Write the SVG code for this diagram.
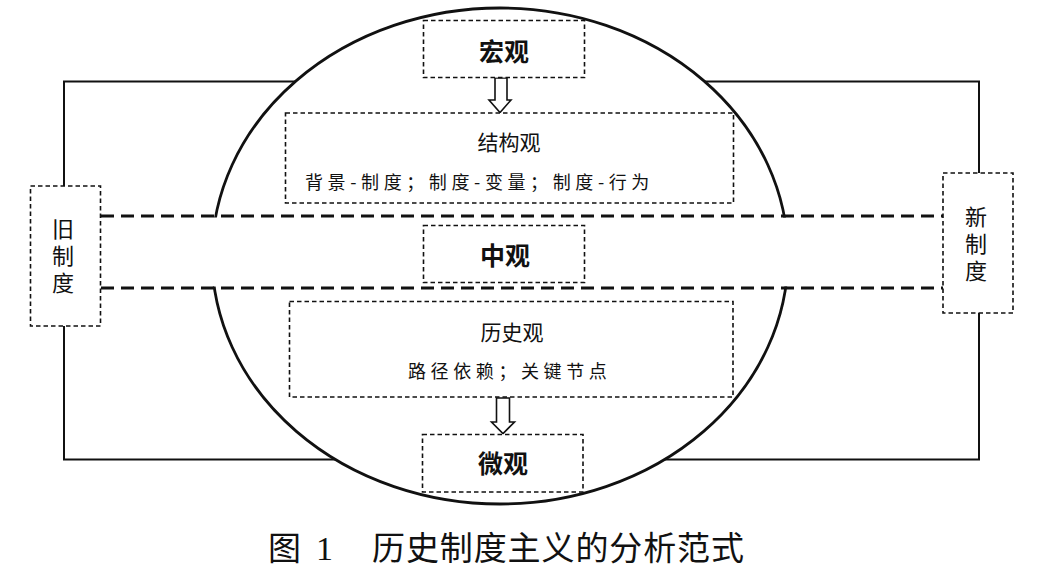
<svg xmlns="http://www.w3.org/2000/svg" width="1052" height="586" viewBox="0 0 1052 586">
<style>
.box{fill:#fff;stroke:#111;stroke-width:1.6;stroke-dasharray:4.5 3}
.band{fill:none;stroke:#111;stroke-width:3.2;stroke-dasharray:13 7}
.cjk{font-family:"Noto Sans CJK SC","Noto Sans",sans-serif;fill:#111}
.hd{font-size:25px;font-weight:700;text-anchor:middle}
.sub{font-size:21px;text-anchor:middle}
.sm{font-size:18px;letter-spacing:4.6px}
.vt{font-size:22px;writing-mode:vertical-rl;letter-spacing:5px}
.arr{fill:#fff;stroke:#111;stroke-width:1.6;stroke-linejoin:miter}
</style>
<rect width="1052" height="586" fill="#fff"/>
<g id="background">
<rect x="64" y="81.5" width="915" height="378" fill="none" stroke="#111" stroke-width="2"/>
<ellipse cx="500" cy="256" rx="288" ry="248" fill="#fff" stroke="#111" stroke-width="2.8"/>
<rect x="150" y="217.5" width="760" height="69" fill="#fff"/>
</g>
<g id="connectors">
<line class="band" x1="101" y1="216" x2="943" y2="216"/>
<line class="band" x1="101" y1="288" x2="943" y2="288"/>
<path class="arr" d="M495,78 L507,78 L507,100 L511,100 L500,112.5 L489,100 L495,100 Z"/>
<path class="arr" d="M496.5,398 L509.5,398 L509.5,422 L514.5,422 L503,433.5 L491.5,422 L496.5,422 Z"/>
</g>
<g id="node-macro">
<rect class="box" x="423.5" y="20.5" width="161" height="57"/>
<text class="cjk hd" x="504" y="61">宏观</text>
</g>
<g id="node-structure">
<rect class="box" x="285.5" y="113" width="448" height="90"/>
<text class="cjk sub" x="509" y="150">结构观</text>
<text class="cjk sm" x="305" y="189">背景-制度；制度-变量；制度-行为</text>
</g>
<g id="node-meso">
<rect class="box" x="423.5" y="225.5" width="161" height="57"/>
<text class="cjk hd" x="505" y="265">中观</text>
</g>
<g id="node-history">
<rect class="box" x="289.5" y="301.5" width="443.5" height="95.5"/>
<text class="cjk sub" x="512" y="340">历史观</text>
<text class="cjk sm" x="408" y="378">路径依赖；关键节点</text>
</g>
<g id="node-micro">
<rect class="box" x="422.5" y="434.5" width="160.5" height="57.5"/>
<text class="cjk hd" x="503" y="473">微观</text>
</g>
<g id="node-old">
<rect class="box" x="30.5" y="186" width="70" height="140"/>
<text class="cjk vt" x="63" y="218">旧制度</text>
</g>
<g id="node-new">
<rect class="box" x="943" y="173" width="70" height="140"/>
<text class="cjk vt" x="976" y="206">新制度</text>
</g>
<g id="caption">
<text class="cjk" font-size="33" x="268" y="560">图</text>
<text font-family="Liberation Serif, serif" font-size="34" x="316" y="560" fill="#111">1</text>
<text class="cjk" font-size="33" x="372" y="560" letter-spacing="0.9">历史制度主义的分析范式</text>
</g>
</svg>
